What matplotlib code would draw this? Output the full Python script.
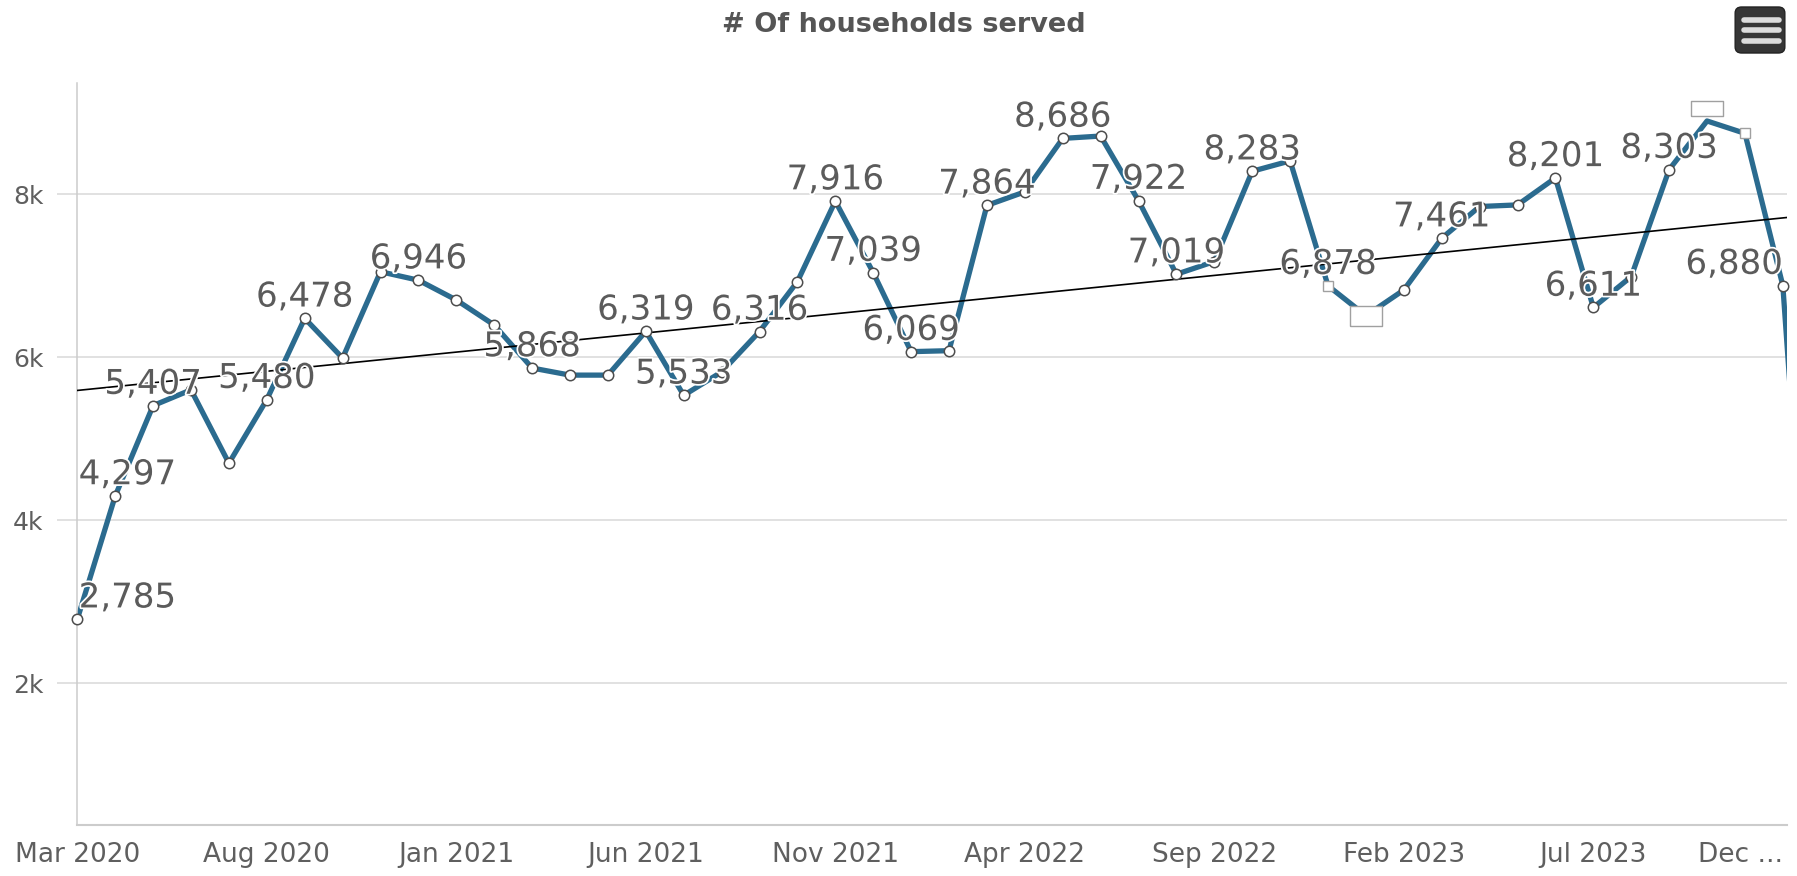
import numpy as np
import pandas as pd
import matplotlib
matplotlib.use('Agg')
import matplotlib.pyplot as plt
import matplotlib.patheffects as pe
from matplotlib.patches import FancyBboxPatch

# monthly households served, Mar 2020 .. Jan 2024 (last month only partly visible)
months = pd.date_range('2020-03-01', periods=47, freq='MS').strftime('%b %Y').tolist()
households = [2785, 4297, 5407, 5600, 4700, 5480, 6478, 5990, 7050, 6946,
              6703, 6396, 5868, 5781, 5781, 6319, 5533, 5820, 6316, 6928,
              7916, 7039, 6069, 6081, 7864, 8030, 8686, 8715, 7922, 7019,
              7175, 8283, 8410, 6878, 6510, 6826, 7461, 7850, 7870, 8201,
              6611, 6990, 8303, 8900, 8748, 6880, 320]

# points that carry a value label
labelled = [0, 1, 2, 5, 6, 9, 12, 15, 16, 18, 20, 21, 22, 24, 26, 28, 29,
            31, 33, 36, 39, 40, 42, 45]

tick_pos = [0, 5, 10, 15, 20, 25, 30, 35, 40, 45]
tick_labels = ['Mar 2020', 'Aug 2020', 'Jan 2021', 'Jun 2021', 'Nov 2021',
               'Apr 2022', 'Sep 2022', 'Feb 2023', 'Jul 2023', 'Dec ...']
y_ticks = [2000, 4000, 6000, 8000]
y_tick_labels = ['2k', '4k', '6k', '8k']

# hover boxes / small squares left on the original screenshot
small_squares = [33, 44]
box_centered = [34]
box_above = [43]

line_col = '#2b6b8f'
text_col = '#5b5b5b'
grid_col = '#d9d9d9'

W, H = 1797, 876
fig = plt.figure(figsize=(W / 100, H / 100), dpi=100)
ax = fig.add_axes([77.3 / W, 1 - 825 / H, (1787 - 77.3) / W, (825 - 83) / H])

x = np.arange(len(households))
y = np.array(households)
x_right = 45.11

ax.plot(x, y, color=line_col, lw=3.8, zorder=2, solid_joinstyle='round')

# linear trend over all months
coef = np.polyfit(x, y, 1)
xt = np.array([0, x_right])
ax.plot(xt, np.polyval(coef, xt), color='black', lw=1.2, zorder=3)

special = set(small_squares + box_centered + box_above)
circ = [i for i in x if i not in special and i <= x_right]
ax.plot(x[circ], y[circ], 'o', ms=7.5, mfc='white', mec='#4d4d4d', mew=1.1,
        zorder=4, clip_on=False)
ax.plot(x[small_squares], y[small_squares], 's', ms=7.5, mfc='white',
        mec='#a0a0a0', mew=1.0, zorder=4)
rect_c = [(-1, -0.6), (1, -0.6), (1, 0.6), (-1, 0.6), (-1, -0.6)]
ax.plot(x[box_centered], y[box_centered], marker=rect_c, ls='none', ms=23,
        mfc='white', mec='#a0a0a0', mew=1.0, zorder=4)
rect_a = [(-1, 0.3), (1, 0.3), (1, 1.2), (-1, 1.2), (-1, 0.3)]
ax.plot(x[box_above], y[box_above], marker=rect_a, ls='none', ms=28.5,
        mfc='white', mec='#a0a0a0', mew=1.0, zorder=4)

outline = [pe.withStroke(linewidth=2.5, foreground='white')]
lab_size = 24.5
for i in labelled:
    v = households[i]
    txt = f'{v:,}'
    if i <= 1:
        ax.annotate(txt, xy=(0, v), xycoords=('axes fraction', 'data'),
                    xytext=(1, 8.5), textcoords='offset points', ha='left',
                    va='baseline', fontsize=lab_size, color=text_col,
                    path_effects=outline, zorder=5, annotation_clip=False)
    elif i == 45:
        ax.annotate(txt, xy=(1, v), xycoords=('axes fraction', 'data'),
                    xytext=(-3, 8.5), textcoords='offset points', ha='right',
                    va='baseline', fontsize=lab_size, color=text_col,
                    path_effects=outline, zorder=5, annotation_clip=False)
    else:
        ax.annotate(txt, xy=(i, v), xytext=(0, 8.5), textcoords='offset points',
                    ha='center', va='baseline', fontsize=lab_size, color=text_col,
                    path_effects=outline, zorder=5, annotation_clip=False)

ax.set_xlim(0, x_right)
ax.set_ylim(260, 9366)

ax.set_xticks(tick_pos)
ax.set_xticklabels(tick_labels)
ax.get_xticklabels()[-1].set_ha('right')
ax.set_yticks(y_ticks)
ax.set_yticklabels(y_tick_labels)
ax.tick_params(axis='x', length=0, pad=12, labelsize=19, labelcolor='#5f5f5f')
ax.tick_params(axis='y', length=14.4, width=1.1, color=grid_col, pad=10,
               labelsize=18, labelcolor='#5f5f5f')
ax.yaxis.grid(True, color=grid_col, lw=1.1, zorder=0)
ax.set_axisbelow(True)

for s in ['top', 'right']:
    ax.spines[s].set_visible(False)
ax.spines['left'].set_color('#cccccc')
ax.spines['left'].set_linewidth(1.1)
ax.spines['bottom'].set_color('#cccccc')
ax.spines['bottom'].set_linewidth(1.5)

fig.text(0.503, 1 - 25 / H, '# Of households served', ha='center', va='center',
         fontsize=19.5, fontweight='bold', color='#555555')

# menu button top right
icon = fig.add_axes([1733 / W, 1 - 55 / H, 54 / W, 50 / H])
icon.set_xlim(0, 1)
icon.set_ylim(0, 1)
icon.axis('off')
icon.add_patch(FancyBboxPatch((0.04, 0.04), 0.92, 0.92,
                              boxstyle='round,pad=0,rounding_size=0.12',
                              fc='#363636', ec='#222222', lw=1))
for yy in [0.7, 0.5, 0.29]:
    icon.plot([0.2, 0.85], [yy, yy], color='#dcdcdc', lw=4,
              solid_capstyle='round')

fig.savefig('out.png', dpi=100)
